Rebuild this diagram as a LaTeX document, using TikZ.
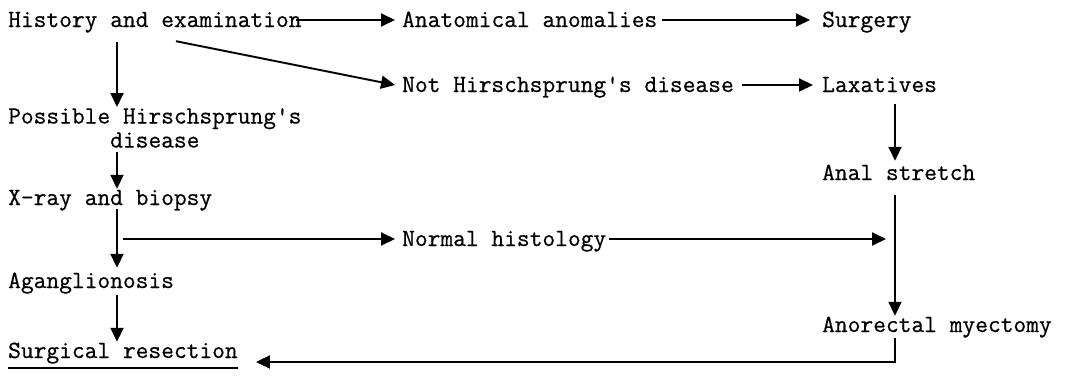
\documentclass[tikz,border=0pt]{standalone}
\usepackage{fontspec}
\setmonofont{Latin Modern Mono}[FakeBold=0.6]
\usetikzlibrary{arrows.meta,calc}
\begin{document}
\begin{tikzpicture}[x=1pt,y=-1pt,
  lbl/.style={anchor=west, inner sep=0pt, font=\ttfamily\fontsize{24.76pt}{22pt}\selectfont, text height=16pt, text depth=2pt},
  lbltwo/.style={inner sep=0pt, align=center, font=\ttfamily\fontsize{24.76pt}{24pt}\selectfont},
  ln/.style={line width=1.9pt},
  arr/.style={line width=1.9pt, -{Triangle[length=14pt,width=13pt]}}]
\useasboundingbox (0,0) rectangle (1066,375);
\coordinate (lx) at (117,0);
\coordinate (rx) at (895,0);
\node[lbl] (hist) at (8,20) {History and examination};
\node[lbl] (anat) at (402,20) {Anatomical anomalies};
\node[lbl] (surg) at (822,20) {Surgery};
\node[lbl] (noths) at (402,85) {Not Hirschsprung's disease};
\node[lbl] (lax) at (822,85) {Laxatives};
\node[lbl] (anal) at (822,173) {Anal stretch};
\node[lbltwo, anchor=north west] (poss) at (8,108) {Possible Hirschsprung's\\disease};
\node[lbl] (xray) at (8,198) {X-ray and biopsy};
\node[lbl] (norm) at (402,239) {Normal histology};
\node[lbl] (agang) at (8,281) {Aganglionosis};
\node[lbl] (sres) at (8,351) {Surgical resection};
\node[lbl] (anorect) at (822,325) {Anorectal myectomy};
% top rows
\draw[arr] ([xshift=-6pt]hist.east) -- ([xshift=-7pt]anat.west);
\draw[arr] ([xshift=5pt]anat.east) -- ([xshift=-12pt]surg.west);
\draw[arr] ([xshift=168pt,yshift=-12pt]hist.south west) -- ([xshift=-7pt]noths.west);
\draw[arr] ([xshift=8pt]noths.east) -- ([xshift=-9pt]lax.west);
% right column
\draw[arr, shorten <=10pt, shorten >=3pt] (lax.south -| rx) -- (anal.north -| rx);
\draw[arr, shorten <=13pt] (anal.south -| rx) -- (anorect.north -| rx);
\draw[arr, shorten <=4pt] (anorect.south -| rx) |- ([xshift=18pt,yshift=-11pt]sres.east);
% left column
\draw[arr, shorten <=13pt, shorten >=1pt] (hist.south -| lx) -- (poss.north -| lx);
\draw[arr, shorten <=4pt] (poss.south -| lx) -- (xray.north -| lx);
\draw[arr, shorten <=2pt, shorten >=4pt] (xray.south -| lx) -- (agang.north -| lx);
\draw[arr, shorten <=5pt] (agang.south -| lx) -- (sres.north -| lx);
% branch to normal histology
\draw[arr] ($(norm.west -| lx)+(6,0)$) -- ([xshift=-7pt]norm.west);
\draw[arr, shorten >=9pt] ([xshift=3pt]norm.east) -- (norm.east -| rx);
% underline
\draw[ln] ([yshift=-8pt]sres.south west) -- ([yshift=-8pt]sres.south east);
\end{tikzpicture}
\end{document}
